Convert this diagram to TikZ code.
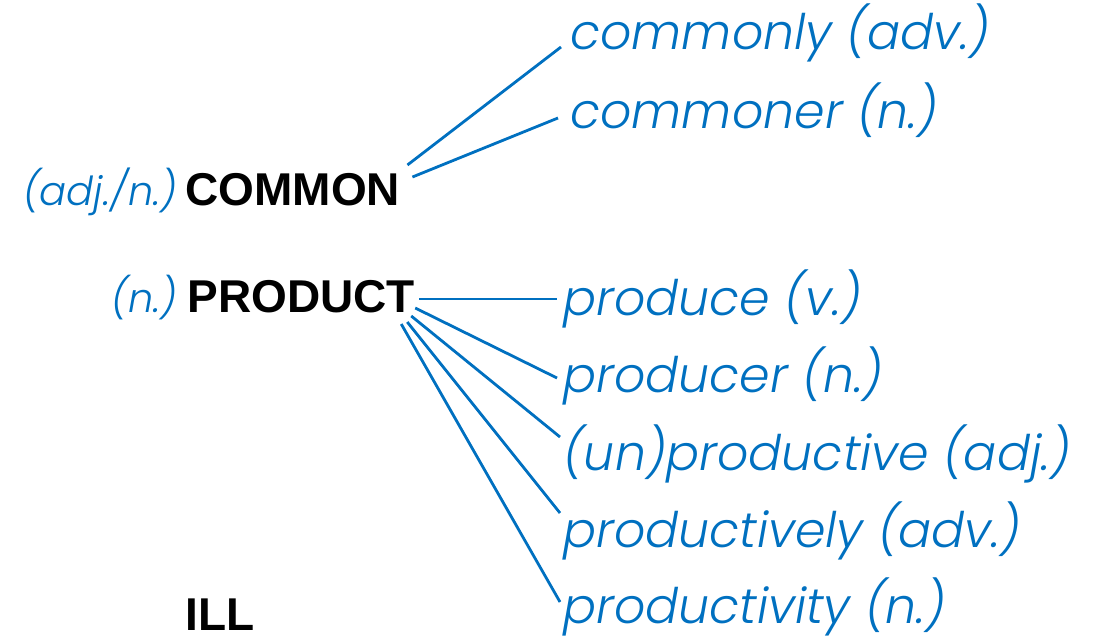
\documentclass[tikz,border=0pt]{standalone}
\usepackage{fontspec}
\setmainfont{Liberation Sans}
\newfontfamily\handfont{Poppins Light Italic}
\usetikzlibrary{
    calc,
    positioning
}
\definecolor{inkblue}{RGB}{0,112,192}

\begin{document}
\begin{tikzpicture}[
    x=0.5pt, y=-0.5pt,
    headword/.style = {anchor=base west, inner sep=0pt,
                       font=\fontsize{23}{23}\selectfont\bfseries},
    wordclass/.style = {anchor=base east, inner sep=0pt, text=inkblue,
                        font=\handfont\fontsize{20}{20}\selectfont},
    derived/.style = {anchor=base west, inner sep=0pt, text=inkblue,
                      font=\handfont\fontsize{24.5}{24.5}\selectfont},
    familyline/.style = {draw=inkblue, line width=1.4pt}
]
    \useasboundingbox (0,0) rectangle (1107,642);

    \node[headword] (COMMON) at (185,205) {COMMON};
    \node[headword] (PRODUCT) at (187,312) {PRODUCT};
    \node[headword] (ILL) at (185,630) {ILL};
    \node[wordclass] (COMMONwc) at (178,205) {(adj./n.)};
    \node[wordclass] (PRODUCTwc) at (178,312) {(n.)};

    \node[derived] (commonly) at (570,50) {commonly (adv.)};
    \node[derived] (commoner) at (570,128) {commoner (n.)};
    \node[derived] (produce) at (563,315) {produce (v.)};
    \node[derived] (producer) at (563,392) {producer (n.)};
    \node[derived] (unproductive) at (563,470) {(un)productive (adj.)};
    \node[derived] (productively) at (563,547) {productively (adv.)};
    \node[derived] (productivity) at (563,623) {productivity (n.)};

    % common family
    \draw[familyline] ($(COMMON.base east)+(7,-40)$) -- ($(commonly.base west)+(-9,-3)$);
    \draw[familyline] ($(COMMON.base east)+(12,-28)$) -- ($(commoner.base west)+(-12,-10)$);

    % product family
    \draw[familyline] ($(PRODUCT.base east)+(4,-13)$) -- ($(produce.base west)+(-6,-16)$);
    \draw[familyline] ($(PRODUCT.base east)+(0,-4)$) -- ($(producer.base west)+(-6,-14)$);
    \draw[familyline] ($(PRODUCT.base east)+(-4,4)$) -- ($(unproductive.base west)+(-3,-33)$);
    \draw[familyline] ($(PRODUCT.base east)+(-8,10)$) -- ($(productively.base west)+(-3,-34)$);
    \draw[familyline] ($(PRODUCT.base east)+(-14,12)$) -- ($(productivity.base west)+(-3,-21)$);

\end{tikzpicture}
\end{document}
